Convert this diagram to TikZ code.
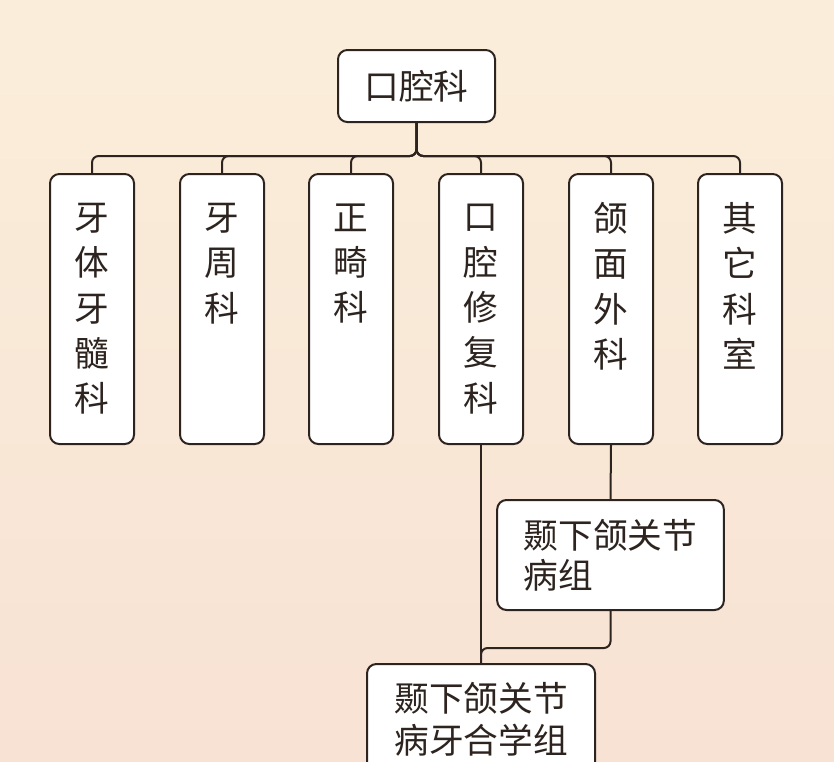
\documentclass[tikz,border=0pt]{standalone}
\usepackage{fontspec}
\newfontfamily\cjk{Noto Sans CJK SC}
\definecolor{bgtop}{RGB}{250,238,218}
\definecolor{bgbot}{RGB}{248,226,212}
\definecolor{ink}{RGB}{45,36,32}
\begin{document}
\begin{tikzpicture}[x=0.75pt,y=-0.75pt,
  box/.style={draw=ink,line width=1.5pt,fill=white,rounded corners=7pt,inner sep=0pt,
    font=\cjk\fontsize{26}{34}\selectfont,text=ink,align=center},
  col/.style={box,minimum width=63pt,minimum height=202.5pt,anchor=north},
  wire/.style={draw=ink,line width=1.5pt,rounded corners=5pt}]
\shade[top color=bgtop,bottom color=bgbot] (0,0) rectangle (834,761);
\useasboundingbox (0,0) rectangle (834,761);
\node[box,minimum width=117.75pt,minimum height=54pt] (top) at (416.5,86) {口腔科};
\node[col] (c1) at (92,173) {牙\\体\\牙\\髓\\科};
\node[col] (c2) at (222,173) {牙\\周\\科\\\phantom{科}\\\phantom{科}};
\node[col] (c3) at (351,173) {正\\畸\\科\\\phantom{科}\\\phantom{科}};
\node[col] (c4) at (481,173) {口\\腔\\修\\复\\科};
\node[col] (c5) at (611,173) {颌\\面\\外\\科\\\phantom{科}};
\node[col] (c6) at (740,173) {其\\它\\科\\室\\\phantom{科}};
\node[box,minimum width=170pt,minimum height=82.5pt,align=left,font=\cjk\fontsize{26}{30}\selectfont] (tmj) at (610.5,555) {颞下颌关节\\病组};
\node[box,minimum width=171pt,minimum height=97.5pt,align=left,font=\cjk\fontsize{26}{31.5}\selectfont] (bot) at (481,729) {\\[-0.5em]颞下颌关节\\病牙合学组\\[-0.8em]\phantom{病}};
\foreach \c in {c1,c2,c3,c4,c5,c6}
  \draw[wire] (top.south) -- ++(0,33) -| (\c.north);
\draw[wire] (c4.south) -- (bot.north);
\draw[wire] (c5.south) -- (tmj.north);
\draw[wire] (tmj.south) -- ++(0,37) -| (bot.north);
\end{tikzpicture}
\end{document}
